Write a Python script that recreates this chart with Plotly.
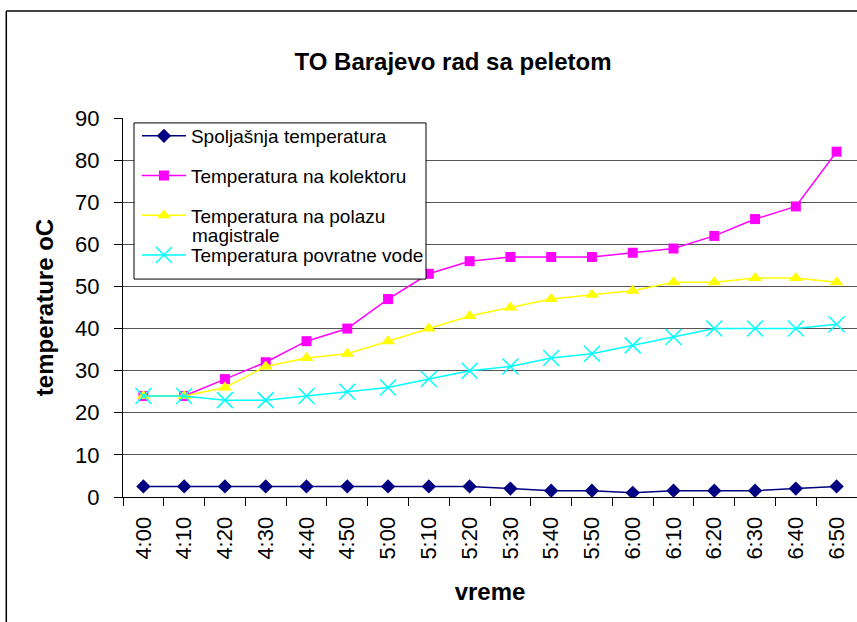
import plotly.graph_objects as go

times = ["4:00", "4:10", "4:20", "4:30", "4:40", "4:50", "5:00", "5:10", "5:20",
         "5:30", "5:40", "5:50", "6:00", "6:10", "6:20", "6:30", "6:40", "6:50"]
spoljasnja = [2.5, 2.5, 2.5, 2.5, 2.5, 2.5, 2.5, 2.5, 2.5, 2, 1.5, 1.5, 1, 1.5, 1.5, 1.5, 2, 2.5]
kolektor = [24, 24, 28, 32, 37, 40, 47, 53, 56, 57, 57, 57, 58, 59, 62, 66, 69, 82]
polaz = [24, 24, 26, 31, 33, 34, 37, 40, 43, 45, 47, 48, 49, 51, 51, 52, 52, 51]
povratna = [24, 24, 23, 23, 24, 25, 26, 28, 30, 31, 33, 34, 36, 38, 40, 40, 40, 41]

font = "Liberation Sans, Arial, sans-serif"

fig = go.Figure()
fig.add_trace(go.Scatter(x=times, y=spoljasnja, mode="lines+markers",
                         name="Spoljašnja temperatura", legendgroup="a",
                         line=dict(color="#000080", width=1.5),
                         marker=dict(symbol="diamond", size=11, color="#000080")))
fig.add_trace(go.Scatter(x=times, y=kolektor, mode="lines+markers",
                         name="Temperatura na kolektoru", legendgroup="b",
                         line=dict(color="#FF00FF", width=1.5),
                         marker=dict(symbol="square", size=10, color="#FF00FF")))
fig.add_trace(go.Scatter(x=times, y=polaz, mode="lines+markers",
                         name="Temperatura na polazu", legendgroup="c",
                         line=dict(color="#FFFF00", width=1.5),
                         marker=dict(symbol="triangle-up", size=12, color="#FFFF00")))
fig.add_trace(go.Scatter(x=times, y=povratna, mode="lines+markers",
                         name="Temperatura povratne vode", legendgroup="d",
                         line=dict(color="#00FFFF", width=1.5),
                         marker=dict(symbol="x-thin", size=16, color="#00FFFF",
                                     line=dict(color="#00FFFF", width=1.5))))

fig.update_layout(
    width=857, height=622,
    margin=dict(l=123, r=0, t=118, b=125),
    paper_bgcolor="white", plot_bgcolor="white",
    font=dict(family=font, color="black"),
    title=dict(text="<b>TO Barajevo rad sa peletom</b>", x=453 / 857, xanchor="center",
               y=1 - 62 / 622, yanchor="middle", font=dict(size=24, family=font)),
    legend=dict(x=0.019, y=1.0027, xanchor="left", yanchor="top",
                bgcolor="rgba(0,0,0,0)", borderwidth=0,
                font=dict(size=19, family=font), tracegroupgap=12, itemwidth=44),
    showlegend=True,
)
# legend box (opaque, framed) drawn behind the transparent legend
fig.add_shape(type="rect", xref="paper", yref="paper", layer="above",
              x0=0.015, x1=0.4128, y0=0.575, y1=0.987,
              fillcolor="white", line=dict(color="black", width=1))
fig.add_annotation(text="magistrale", xref="paper", yref="paper",
                   x=0.0913, y=(497 - 235) / 379, xanchor="left", yanchor="middle",
                   showarrow=False, font=dict(size=19, family=font))

fig.update_xaxes(
    type="category", range=[-0.5, 17.5], showline=True, linecolor="black", linewidth=1,
    ticks="outside", ticklen=8, tickcolor="black", tickson="boundaries",
    tickangle=-90, tickfont=dict(size=22, family=font), showgrid=False,
    ticklabelstandoff=10,
    title=dict(text="<b>vreme</b>", font=dict(size=24, family=font), standoff=24),
)
fig.update_yaxes(
    range=[0, 90], dtick=10, showline=True, linecolor="black", linewidth=1,
    ticks="outside", ticklen=8, tickcolor="black", ticklabelstandoff=10,
    tickfont=dict(size=22, family=font),
    showgrid=True, gridcolor="#555555", gridwidth=1, zeroline=False,
    title=dict(text="<b>temperature oC</b>", font=dict(size=24, family=font), standoff=14),
)
fig.add_shape(type="line", xref="paper", yref="paper",
              x0=-0.159, x1=1.02, y0=1.282, y1=1.282, line=dict(color="black", width=1.5))
fig.add_shape(type="line", xref="paper", yref="paper",
              x0=-0.159, x1=-0.159, y0=1.282, y1=-0.4, line=dict(color="black", width=1.5))

fig.write_html("out.html", post_script="document.body.style.margin='0';",
               config={"displayModeBar": False})
